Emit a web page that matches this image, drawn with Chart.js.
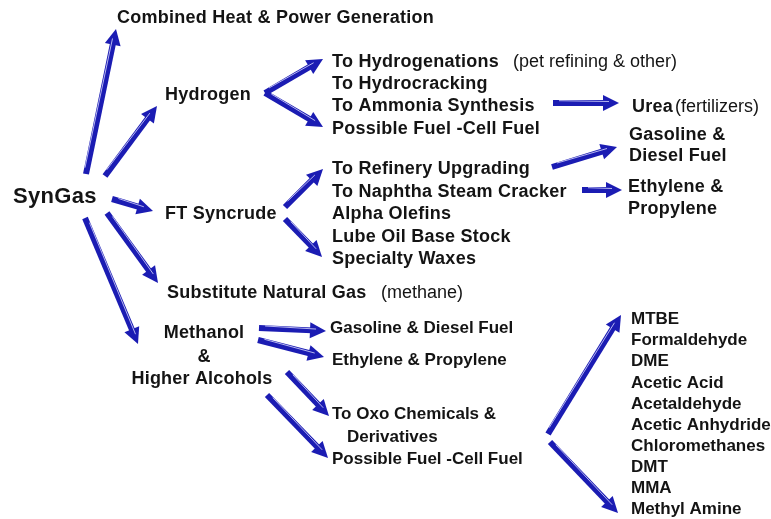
<!DOCTYPE html>
<html>
<head>
<meta charset="utf-8">
<script src="https://cdn.jsdelivr.net/npm/chart.js@4.4.1/dist/chart.umd.min.js"></script>
<style>
  html, body { margin: 0; padding: 0; background: #fff; }
  #wrap { width: 771px; height: 519px; }
</style>
</head>
<body>
<div id="wrap"><canvas id="flow" width="771" height="519"></canvas></div>
<script>
// diagram units: x 0..771 to the right, y 0..519 downward

// main bold labels
const mainText = [
  "Combined Heat & Power Generation",
  "Hydrogen",
  "To Hydrogenations", "To Hydrocracking", "To Ammonia Synthesis", "Possible Fuel -Cell Fuel",
  "Urea",
  "Gasoline &", "Diesel Fuel",
  "FT Syncrude",
  "To Refinery Upgrading", "To Naphtha Steam Cracker", "Alpha Olefins", "Lube Oil Base Stock", "Specialty Waxes",
  "Ethylene &", "Propylene",
  "Substitute Natural Gas"
];
const mainX = [117, 165, 332, 332, 332, 332, 632, 629, 629, 165, 332, 332, 332, 332, 332, 628, 628, 167];
const mainY = [18, 95, 62, 84, 106, 129, 107, 135, 156, 214, 169, 192, 214, 237, 259, 187, 209, 293];

// smaller bold labels (methanol branch and its products)
const sideText = [
  "Gasoline & Diesel Fuel", "Ethylene & Propylene",
  "To Oxo Chemicals &", "Derivatives", "Possible Fuel -Cell Fuel",
  "MTBE", "Formaldehyde", "DME", "Acetic Acid", "Acetaldehyde",
  "Acetic Anhydride", "Chloromethanes", "DMT", "MMA", "Methyl Amine"
];
const sideX = [330, 332, 332, 347, 332, 631, 631, 631, 631, 631, 631, 631, 631, 631, 631];
const sideY = [328, 360, 414, 437, 459, 319, 340, 361, 383, 404, 425, 446, 467, 488, 509];

// centred block
const centerText = ["Methanol", "&", "Higher Alcohols"];
const centerX = [204, 204, 202];
const centerY = [333, 357, 379];

// plain notes
const noteText = ["(pet refining & other)", "(fertilizers)", "(methane)"];
const noteX = [513, 675, 381];
const noteY = [62, 107, 293];

// root node
const rootText = ["SynGas"];
const rootX = [13];
const rootY = [197];

// arrows: tail -> tip
const arrowFrom = [
  [86, 174], [105, 176], [112, 199], [107, 213], [85, 218],
  [265, 93], [265, 93], [553, 103],
  [285, 207], [285, 219], [552, 167], [582, 190],
  [259, 328], [258, 340], [287, 372], [267, 395],
  [548, 434], [550, 442]
];
const arrowTo = [
  [116, 29], [157, 106], [153, 211], [158, 283], [138, 344],
  [323, 59], [323, 127], [619, 103],
  [323, 169], [322, 257], [617, 147], [622, 190],
  [326, 331], [324, 357], [329, 416], [328, 458],
  [621, 315], [618, 513]
];

const BLUE = "#1b1cb3";
const INK = "#141414";

const arrowPlugin = {
  id: "arrows",
  afterDatasetsDraw(chart) {
    const { ctx, scales: { x, y } } = chart;
    ctx.save();
    arrowFrom.forEach((f, i) => {
      const t = arrowTo[i];
      const x0 = x.getPixelForValue(f[0]), y0 = y.getPixelForValue(f[1]);
      const x1 = x.getPixelForValue(t[0]), y1 = y.getPixelForValue(t[1]);
      const a = Math.atan2(y1 - y0, x1 - x0);
      const c = Math.cos(a), s = Math.sin(a);
      const headLen = 16, headHalf = 8;
      const bx = x1 - headLen * c, by = y1 - headLen * s;

      ctx.strokeStyle = BLUE;
      ctx.lineWidth = 6;
      ctx.lineCap = "butt";
      ctx.beginPath();
      ctx.moveTo(x0, y0);
      ctx.lineTo(bx + 2 * c, by + 2 * s);
      ctx.stroke();

      ctx.fillStyle = BLUE;
      ctx.beginPath();
      ctx.moveTo(x1, y1);
      ctx.lineTo(bx + headHalf * s, by - headHalf * c);
      ctx.lineTo(bx - headHalf * s, by + headHalf * c);
      ctx.closePath();
      ctx.fill();

      // faint bevel highlight along the shaft
      ctx.strokeStyle = "rgba(220,220,255,0.8)";
      ctx.lineWidth = 1;
      ctx.beginPath();
      ctx.moveTo(x0 + 2.3 * s + 6 * c, y0 - 2.3 * c + 6 * s);
      ctx.lineTo(bx + 6 * c + 1.5 * s, by + 6 * s - 1.5 * c);
      ctx.stroke();
    });
    ctx.restore();
  }
};

function drawGroup(chart, texts, xs, ys, font, align, spacing) {
  const { ctx, scales: { x, y } } = chart;
  ctx.font = font;
  ctx.textAlign = align;
  ctx.letterSpacing = spacing;
  texts.forEach((t, i) => {
    ctx.fillText(t, x.getPixelForValue(xs[i]), y.getPixelForValue(ys[i]));
  });
}

const labelPlugin = {
  id: "labels",
  afterDatasetsDraw(chart) {
    const { ctx } = chart;
    ctx.save();
    ctx.fillStyle = INK;
    ctx.textBaseline = "middle";
    const face = "'Liberation Sans', Arial, sans-serif";
    drawGroup(chart, rootText, rootX, rootY, "bold 22px " + face, "left", "0.3px");
    drawGroup(chart, mainText, mainX, mainY, "bold 18px " + face, "left", "0.25px");
    drawGroup(chart, sideText, sideX, sideY, "bold 17px " + face, "left", "0px");
    drawGroup(chart, centerText, centerX, centerY, "bold 18px " + face, "center", "0.2px");
    drawGroup(chart, noteText, noteX, noteY, "18px " + face, "left", "0px");
    ctx.restore();
  }
};

new Chart(document.getElementById("flow"), {
  type: "scatter",
  data: { datasets: [] },
  options: {
    responsive: false,
    animation: false,
    layout: { padding: 0 },
    plugins: { legend: { display: false }, tooltip: { enabled: false } },
    scales: {
      x: { type: "linear", min: 0, max: 771, display: false },
      y: { type: "linear", min: 0, max: 519, reverse: true, display: false }
    }
  },
  plugins: [arrowPlugin, labelPlugin]
});
</script>
</body>
</html>
